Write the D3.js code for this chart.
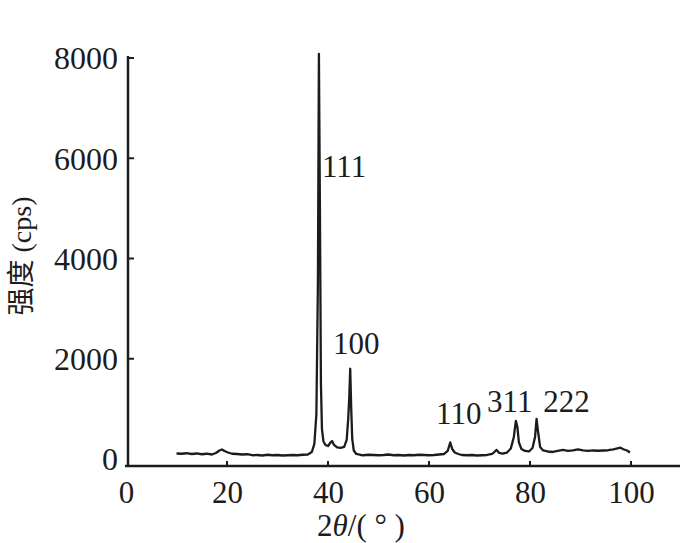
<!DOCTYPE html>
<html><head><meta charset="utf-8">
<script src="https://cdn.jsdelivr.net/npm/d3@7/dist/d3.min.js"></script>
<style>body{margin:0;background:#fff}svg{display:block}
.serif{font-family:"Liberation Serif","Times New Roman",Tinos,"DejaVu Serif",serif}</style>
</head><body>
<script>
// 2θ (deg) and intensity (cps)
const twoTheta = [10.0,11,12,13,14,15,16,17,17.8,18.5,19.0,19.5,20.2,21,22,23,24,25,26,27,28,29,30,31,32,33,34,35,36,36.8,37.3,37.7,38.0,38.2,38.4,38.6,38.8,39.1,39.5,40.0,40.5,40.8,41.2,41.8,42.5,43.2,43.7,44.0,44.2,44.4,44.6,44.8,45.1,45.6,46.5,47,48,49,50,51,52,53,54,55,56,57,58,59,60,61,62,63,63.7,64.2,64.6,65.1,65.8,66.5,67.5,68.5,69.5,70.5,71.5,72.5,73.4,73.9,74.6,75.4,76.2,76.8,77.2,77.5,77.8,78.3,79,79.8,80.5,81.0,81.3,81.6,82.0,82.6,83.5,84.5,85.5,86.5,87.5,88.5,89.5,90.5,91.5,92.5,93.5,94.5,95.5,96.5,97.3,97.9,98.5,99.2,99.8];
const intensity = [110,105,115,100,110,95,105,90,120,170,190,160,130,105,100,90,95,75,80,70,85,75,80,70,75,80,75,85,90,140,300,900,3500,8080,5000,1500,600,350,280,260,330,360,280,230,220,240,380,800,1200,1800,1000,400,170,100,80,75,85,80,75,80,90,75,80,70,80,75,85,80,75,80,90,100,160,330,200,130,100,80,75,80,70,75,80,100,180,120,105,125,210,440,760,640,330,200,160,150,220,440,800,540,240,170,150,140,160,180,160,170,190,170,160,170,165,170,175,190,210,225,195,170,130];

const xTicks = [0,20,40,60,80,100];
const yTicks = [0,2000,4000,6000,8000];
const peakLabels = ["111","100","110","311","222"];
const labelAt2Theta = [38.8,41.0,61.4,71.5,82.6];
const labelAtIntensity = [5630,2095,700,940,940];

const W = 680, H = 543;
const svg = d3.select("body").append("svg").attr("width", W).attr("height", H);
const x = d3.scaleLinear().domain([0,110]).range([126, 681.5]);
const y = d3.scaleLinear().domain([0,8000]).range([459, 58]);
const ink = "#1c1c1c";

// axis lines
svg.append("line").attr("x1",128).attr("x2",128).attr("y1",y(8000)-2).attr("y2",467)
  .attr("stroke",ink).attr("stroke-width",2.5);
svg.append("line").attr("x1",125).attr("x2",W).attr("y1",466).attr("y2",466)
  .attr("stroke",ink).attr("stroke-width",2.5);

// y axis
const yAxis = d3.axisLeft(y).tickValues(yTicks).tickSize(0).tickPadding(10).tickFormat(d3.format("d"));
const gy = svg.append("g").attr("transform","translate(118,0)").call(yAxis);
gy.attr("font-family",null);
gy.select(".domain").remove();
gy.selectAll("text").attr("class","serif").style("font-size","32px").attr("fill",ink).attr("x",0).attr("dy","0.34em");
svg.selectAll(".yt").data(yTicks.filter(d=>d>0)).enter().append("line")
  .attr("x1",128).attr("x2",134).attr("y1",d=>y(d)).attr("y2",d=>y(d)).attr("stroke",ink).attr("stroke-width",2);

// x axis
const xAxis = d3.axisBottom(x).tickValues(xTicks).tickSize(0).tickPadding(0).tickFormat(d3.format("d"));
const gx = svg.append("g").attr("transform","translate(0,466)").call(xAxis);
gx.attr("font-family",null);
gx.select(".domain").remove();
gx.selectAll("text").attr("class","serif").style("font-size","31px").attr("fill",ink).attr("dy",null).attr("y",37);
svg.selectAll(".xt").data(xTicks.filter(d=>d>0)).enter().append("line")
  .attr("x1",d=>x(d)).attr("x2",d=>x(d)).attr("y1",466).attr("y2",461).attr("stroke",ink).attr("stroke-width",2);

// titles
const xt = svg.append("text").attr("class","serif").attr("x",361).attr("y",536).attr("text-anchor","middle")
  .style("font-size","31px").attr("fill",ink);
xt.append("tspan").text("2");
xt.append("tspan").attr("font-style","italic").text("θ");
xt.append("tspan").text("/(\u00A0°\u00A0)");

const yt = svg.append("text").attr("transform","translate(31,256) rotate(-90)").attr("text-anchor","middle")
  .style("font-size","28px").attr("fill",ink);
yt.append("tspan").style("font-family","'Noto Sans CJK SC'").text("强度");
yt.append("tspan").attr("class","serif").text(" (cps)");

// pattern line
const pts = twoTheta.map((t,i)=>[t,intensity[i]]);
svg.append("path").datum(pts)
  .attr("d", d3.line().x(d=>x(d[0])).y(d=>y(d[1])))
  .attr("fill","none").attr("stroke",ink).attr("stroke-width",2.3).attr("stroke-linejoin","round");

// peak labels
svg.selectAll(".pl").data(peakLabels).enter().append("text").attr("class","serif")
  .attr("x",(d,i)=>x(labelAt2Theta[i])).attr("y",(d,i)=>y(labelAtIntensity[i]))
  .style("font-size","31px").attr("fill",ink).text(d=>d);
</script>
</body></html>
